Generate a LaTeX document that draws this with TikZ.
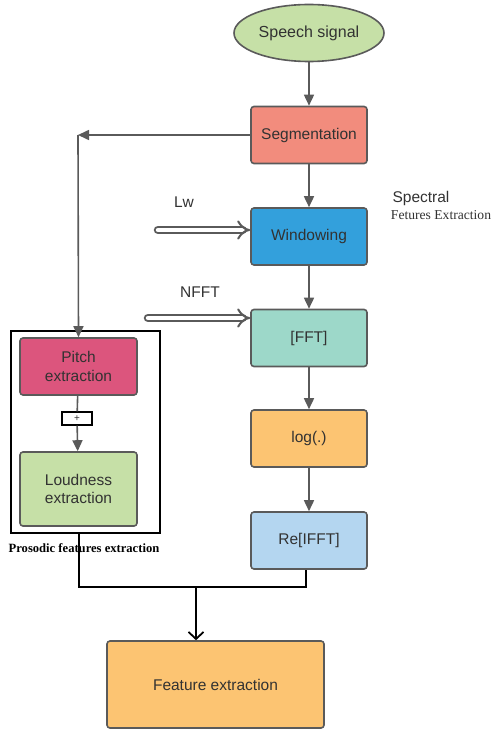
\documentclass[tikz,border=0pt]{standalone}
\usepackage{fontspec}
\setmainfont{Liberation Sans}
\newfontfamily\seriffont{Liberation Serif}
\usetikzlibrary{arrows.meta,shapes.geometric}
\definecolor{txt}{RGB}{50,50,50}
\definecolor{edge}{RGB}{90,90,90}
\definecolor{cgreen}{RGB}{198,224,167}
\definecolor{csalmon}{RGB}{242,140,125}
\definecolor{cblue}{RGB}{51,160,220}
\definecolor{cteal}{RGB}{157,216,201}
\definecolor{corange}{RGB}{252,196,114}
\definecolor{clblue}{RGB}{180,214,240}
\definecolor{cpink}{RGB}{220,85,125}
\tikzset{
  box/.style={draw=edge, line width=1.6pt, rounded corners=3pt, minimum width=116pt, minimum height=57pt, inner sep=0pt, text=txt, font=\fontsize{15.5}{18.5}\selectfont, align=center},
  arr/.style={draw=edge, line width=1.6pt, -{Triangle[length=11pt,width=10pt]}},
  plainline/.style={draw=edge, line width=1.6pt},
  hollow/.style={draw=edge, line width=2pt, double=white, double distance=4.5pt, line cap=round, -{Implies[length=7pt]}},
  lbl/.style={text=txt, font=\fontsize{15.5}{18.5}\selectfont, inner sep=0pt},
}
\begin{document}
\begin{tikzpicture}[x=1pt,y=-1pt]
\useasboundingbox (0,0) rectangle (493,730);
% spectral chain
\node[ellipse, draw=edge, line width=1.6pt, fill=cgreen, minimum width=150pt, minimum height=57pt, inner sep=0pt, text=txt, font=\fontsize{16}{19}\selectfont] (speech) at (309,33) {Speech signal};
\node[box, fill=csalmon] (seg) at (309,135) {Segmentation};
\node[box, fill=cblue] (win) at (309,236.5) {Windowing};
\node[box, fill=cteal] (fft) at (309,338) {[FFT]};
\node[box, fill=corange] (log) at (309,438.5) {log(.)};
\node[box, fill=clblue] (ifft) at (309,540.5) {Re[IFFT]};
\node[box, fill=corange, minimum width=217pt, minimum height=87pt] (feat) at (215.5,684.5) {Feature extraction};
% prosodic
\node[draw=black, line width=1.8pt, minimum width=149pt, minimum height=202pt, inner sep=0pt] (pros) at (85.5,432) {};
\node[box, fill=cpink, minimum width=117pt, minimum height=57pt] (pitch) at (78.5,366.5) {Pitch\\extraction};
\node[draw=black, line width=1.4pt, minimum width=30pt, minimum height=13pt, inner sep=0pt, font=\fontsize{10}{10}\selectfont, text=txt] (plus) at (77,418.5) {+};
\node[box, fill=cgreen, minimum width=117pt, minimum height=74pt] (loud) at (78.5,489) {Loudness\\extraction};
\node[text=black, font=\seriffont\bfseries\fontsize{12.6}{14}\selectfont, inner sep=0pt] (proslbl) at (84,548) {Prosodic features extraction};
% labels
\node[lbl] (lw) at (184,202) {Lw};
\node[lbl] (nfft) at (200,292) {NFFT};
\node[lbl] (spec) at (421,198) {Spectral};
\node[text=txt, font=\seriffont\fontsize{13.6}{15}\selectfont, inner sep=0pt] (fetlbl) at (441,215) {Fetures Extraction};
% connectors
\draw[arr] (speech) -- (seg);
\draw[arr] (seg) -- (win);
\draw[arr] (win) -- (fft);
\draw[arr] (fft) -- (log);
\draw[arr] (log) -- (ifft);
\coordinate (corner) at (78,135);
\draw[arr] (seg.west) -- (corner);
\draw[arr] (corner) -- (pitch.north);
\draw[plainline] (pitch) -- (plus);
\draw[arr] (plus) -- (loud);
\coordinate (lwstart) at (158,230);
\coordinate (nfftstart) at (148,318);
\draw[hollow] (lwstart) -- (lwstart -| win.west);
\draw[hollow] (nfftstart) -- (nfftstart -| fft.west);
% bottom merge
\coordinate (jl) at (79,587);
\coordinate (jr) at (306,587);
\coordinate (jm) at (196,587);
\draw[black, line width=1.8pt] (pros.south -| jl) -- (jl) -- (jr) -- (ifft.south -| jr);
\draw[black, line width=1.8pt, -{Straight Barb[length=7pt,width=15pt]}] (jm) -- (jm |- feat.north);
\end{tikzpicture}
\end{document}
